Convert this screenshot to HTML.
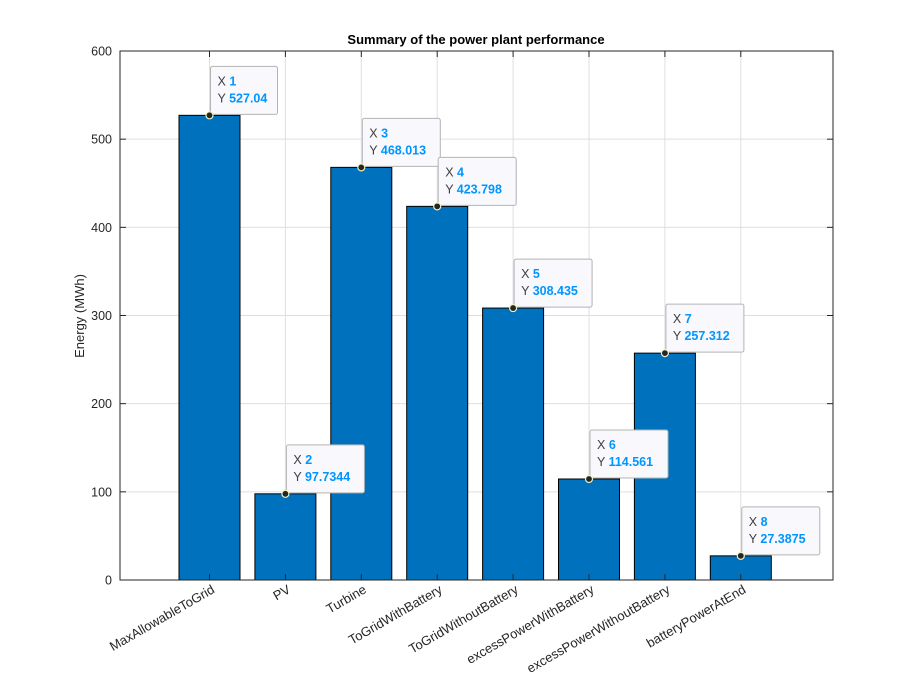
<!DOCTYPE html>
<html><head><meta charset="utf-8"><style>
html,body{margin:0;padding:0;background:#fff;}
svg{display:block;font-family:"Liberation Sans",Arial,sans-serif;}
</style></head><body>
<svg id="c" width="920" height="685">
<rect x="0" y="0" width="920" height="685" fill="#fff"/>
<text x="476" y="44" text-anchor="middle" font-size="13" font-weight="bold" fill="#000">Summary of the power plant performance</text>
<text transform="translate(84,316) rotate(-90)" text-anchor="middle" font-size="13" fill="#262626">Energy (MWh)</text>
<g id="grid"></g><g id="bars"></g><g id="axes"></g><g id="tips"></g>
</svg>
<script>
const categories = ["MaxAllowableToGrid","PV","Turbine","ToGridWithBattery","ToGridWithoutBattery","excessPowerWithBattery","excessPowerWithoutBattery","batteryPowerAtEnd"];
const values = [527.04, 97.7344, 468.013, 423.798, 308.435, 114.561, 257.312, 27.3875];
const valueLabels = ["527.04","97.7344","468.013","423.798","308.435","114.561","257.312","27.3875"];
const yTicks = [0,100,200,300,400,500,600];

const NS="http://www.w3.org/2000/svg";
const L=120,R=833,T=51,B=580;
const yMax=600;
function y(v){return B-(v/yMax)*(B-T);}
function x(i){return 209.5+i*75.9;}
const bw=61;
function mk(tag,attrs,parent,text){const e=document.createElementNS(NS,tag);for(const k in attrs)e.setAttribute(k,attrs[k]);if(text!==undefined)e.textContent=text;parent.appendChild(e);return e;}
const grid=document.getElementById('grid'),bars=document.getElementById('bars'),axes=document.getElementById('axes'),tips=document.getElementById('tips');
mk('rect',{x:L,y:T,width:R-L,height:B-T,fill:'#fff'},grid);
yTicks.forEach(t=>{const g=mk('line',{x1:L,x2:R,y1:y(t),y2:y(t),stroke:'#dfdfdf','stroke-width':1},grid);


const lb=mk('text',{x:L-8,y:y(t)+4.5,'text-anchor':'end','font-size':12.5,fill:'#262626'},axes,String(t));


mk('line',{x1:L,x2:L+6,y1:y(t),y2:y(t),stroke:'#262626'},axes);
mk('line',{x1:R,x2:R-6,y1:y(t),y2:y(t),stroke:'#262626'},axes);
});
categories.forEach((c,i)=>{
const gl=mk('line',{x1:x(i),x2:x(i),y1:T,y2:B,stroke:'#dfdfdf'},grid);


const b=mk('rect',{x:x(i)-bw/2,y:y(values[i]),width:bw,height:B-y(values[i]),fill:'#0072bd',stroke:'#000','stroke-width':1},bars);


mk('line',{x1:x(i),x2:x(i),y1:B,y2:B-6,stroke:'#262626'},axes);
mk('line',{x1:x(i),x2:x(i),y1:T,y2:T+6,stroke:'#262626'},axes);
const lb=mk('text',{transform:`translate(${x(i)+6},${B+12}) rotate(-30)`,'text-anchor':'end','font-size':13,fill:'#262626'},axes,c);


const tx=x(i)+1,ty=y(values[i])-49;
const g=mk('g',{},tips);


const w=valueLabels[i].length>6?78:67;
mk('rect',{x:tx,y:ty,width:w,height:48,rx:2,fill:'#f8f8fd',stroke:'#b4b4b4'},g);
const t1=mk('text',{x:tx+7,y:ty+19,'font-size':12.5,fill:'#404040'},g,'X ');
mk('tspan',{fill:'#0096ff','font-weight':'bold'},t1,String(i+1));
const t2=mk('text',{x:tx+7,y:ty+36,'font-size':12.5,fill:'#404040'},g,'Y ');
mk('tspan',{fill:'#0096ff','font-weight':'bold'},t2,valueLabels[i]);
mk('circle',{cx:x(i),cy:y(values[i]),r:3.5,fill:'#262626',stroke:'#f0f0c0','stroke-width':1.2},g);
});
mk('rect',{x:L,y:T,width:R-L,height:B-T,fill:'none',stroke:'#262626','stroke-width':1},axes);
</script>
</body></html>
